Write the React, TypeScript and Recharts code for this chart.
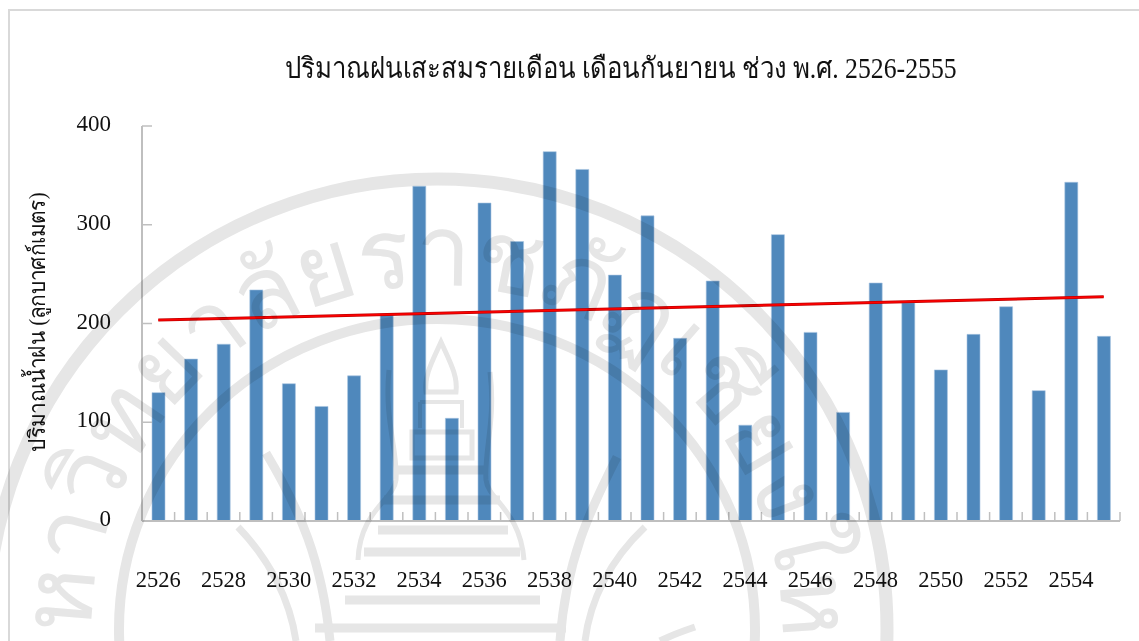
import { ComposedChart, Bar, Line, XAxis, YAxis } from "recharts"

const years = [
    "2526", "2527", "2528", "2529", "2530", "2531", "2532", "2533", "2534", "2535",
    "2536", "2537", "2538", "2539", "2540", "2541", "2542", "2543", "2544", "2545",
    "2546", "2547", "2548", "2549", "2550", "2551", "2552", "2553", "2554", "2555",
]
const rainfall = [
    130, 164, 179, 234, 139, 116, 147, 209, 339, 104,
    322, 283, 374, 356, 249, 309, 185, 243, 97, 290,
    191, 110, 241, 221, 153, 189, 217, 132, 343, 187,
]
// the fitted line as read at its two ends
const trendFirst = 203.5
const trendLast = 227
const yTicks = [0, 100, 200, 300, 400]

const data = years.map((year, i) => ({
    year,
    rain: rainfall[i],
    trend: i === 0 ? trendFirst : i === years.length - 1 ? trendLast : null,
}))

const SERIF = '"Liberation Serif", "Noto Sans", serif'
const WATERMARK = "#e6e6e6"
const AXIS = "#bfbfbf"
const BAND = 978 / years.length

function YearTick({ x, y, index, payload }: any) {
    return (
        <g>
            <line x1={x + BAND / 2} x2={x + BAND / 2} y1={y} y2={y - 9} stroke={AXIS} strokeWidth={1.5} />
            {index % 2 === 0 && (
                <text x={x} y={y + 66} textAnchor="middle" fontSize={22.5} fill="#111" fontFamily={SERIF}>
                    {payload.value}
                </text>
            )}
        </g>
    )
}

function RainTick({ x, y, payload }: any) {
    return (
        <g>
            <line x1={x} x2={x + 10} y1={y} y2={y} stroke={AXIS} strokeWidth={1.5} />
            <text x={x - 31} y={y + 5} textAnchor="end" fontSize={23} fill="#111" fontFamily={SERIF}>
                {payload.value}
            </text>
        </g>
    )
}

// faint university seal lying over the whole page
function Seal() {
    return (
        <svg
            width={1139}
            height={641}
            style={{ position: "absolute", left: 0, top: 0, mixBlendMode: "multiply", pointerEvents: "none" }}
        >
            <defs>
                <path id="sealArc" d="M 99 700 A 345 345 0 1 1 775 700" />
            </defs>
            <g fill="none" stroke={WATERMARK}>
                <circle cx={437} cy={629} r={450} strokeWidth={13} />
                <ellipse cx={437} cy={629} rx={318} ry={310} strokeWidth={10} />
                <path d="M441 342 C432 362 424 376 426 392 L456 392 C458 376 450 362 441 342 Z" strokeWidth={5} />
                <path d="M420 402 H462 V428 M420 402 V428" strokeWidth={4} />
                <path d="M412 432 H472 V458 H412 Z" strokeWidth={5} />
                <path d="M389 370 C384 420 398 450 396 480 C394 500 360 510 358 560" strokeWidth={5} />
                <path d="M490 372 C496 420 484 450 486 480 C488 500 520 510 524 560" strokeWidth={5} />
                <path d="M398 470 H486 M384 500 H500 M378 530 H508 M364 552 H520 M345 600 H540 M315 628 H566" strokeWidth={9} />
                <path d="M266 453 C300 510 322 560 330 641" strokeWidth={9} />
                <path d="M617 457 C590 510 566 560 560 641" strokeWidth={9} />
                <path d="M645 527 C610 560 590 600 585 641" strokeWidth={7} />
                <path d="M238 527 C270 560 290 600 296 641" strokeWidth={7} />
                <path d="M695 627 C680 632 670 636 660 641" strokeWidth={7} />
            </g>
            <text fontSize={100} fill={WATERMARK} fontFamily={SERIF}>
                <textPath href="#sealArc" textLength={1227}>
                    มหาวิทยาลัยราชภัฏเชียงใหม่
                </textPath>
            </text>
        </svg>
    )
}

export default function App() {
    return (
        <div style={{ position: "absolute", left: 0, top: 0, width: 1139, height: 641, overflow: "hidden", background: "#fff" }}>
            <div style={{ position: "absolute", left: 8, top: 9, width: 1139, height: 641, border: "2px solid #d9d9d9", boxSizing: "border-box" }} />
            <ComposedChart
                width={1139}
                height={641}
                data={data}
                margin={{ top: 126, right: 19, bottom: 119, left: 82 }}
                style={{ position: "absolute", left: 0, top: 0 }}
            >
                <text
                    x={0}
                    y={0}
                    transform="translate(621 78) scale(0.888 1)"
                    textAnchor="middle"
                    fontSize={29}
                    fill="#111"
                    fontFamily={SERIF}
                >
                    ปริมาณฝนเสะสมรายเดือน เดือนกันยายน ช่วง พ.ศ. 2526-2555
                </text>
                <text
                    x={0}
                    y={0}
                    transform="translate(45 322) rotate(-90) scale(0.907 1)"
                    textAnchor="middle"
                    fontSize={23}
                    fill="#111"
                    fontFamily={SERIF}
                >
                    ปริมาณน้ำฝน (ลูกบาศก์เมตร)
                </text>
                <XAxis
                    dataKey="year"
                    interval={0}
                    height={1}
                    tickSize={0}
                    tickMargin={0}
                    tickLine={false}
                    axisLine={{ stroke: AXIS, strokeWidth: 2 }}
                    tick={<YearTick />}
                />
                <YAxis
                    domain={[0, 400]}
                    ticks={yTicks}
                    width={60}
                    tickSize={0}
                    tickMargin={0}
                    tickLine={false}
                    axisLine={{ stroke: AXIS, strokeWidth: 2 }}
                    tick={<RainTick />}
                />
                <Bar dataKey="rain" barSize={13} fill="#4f88bc" stroke="#a8c5e0" strokeWidth={0.6} isAnimationActive={false} />
                <Line dataKey="trend" connectNulls dot={false} stroke="#c00000" strokeWidth={3} isAnimationActive={false} />
                <Line dataKey="trend" connectNulls dot={false} stroke="#ff0000" strokeWidth={1.5} isAnimationActive={false} />
            </ComposedChart>
            <Seal />
        </div>
    )
}
